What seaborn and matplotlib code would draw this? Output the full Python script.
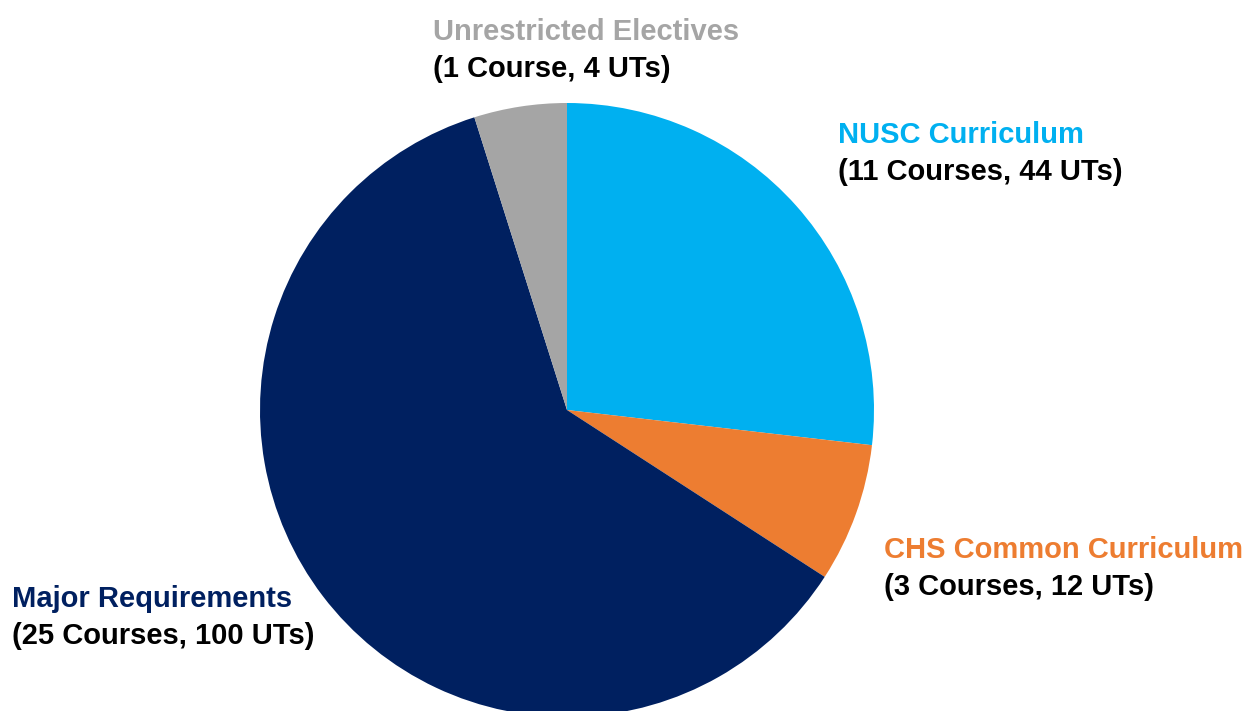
import matplotlib
matplotlib.use("Agg")
import matplotlib.pyplot as plt
import seaborn as sns

categories = ["NUSC Curriculum", "CHS Common Curriculum", "Major Requirements", "Unrestricted Electives"]
slice_values = [44, 12, 100, 8]
colors = ["#00B0F0", "#ED7D31", "#002060", "#A5A5A5"]
subtitles = ["(11 Courses, 44 UTs)", "(3 Courses, 12 UTs)", "(25 Courses, 100 UTs)", "(1 Course, 4 UTs)"]

sns.set_theme(style="white")
plt.rcParams['font.family'] = ['Liberation Sans', 'DejaVu Sans']

W, H = 1248, 711
fig = plt.figure(figsize=(W / 100, H / 100), dpi=100)
ax = fig.add_axes([0, 0, 1, 1])

ax.pie(slice_values, colors=colors, startangle=90, counterclock=False,
       center=(567, 301), radius=307, frame=True,
       wedgeprops=dict(linewidth=0))
ax.set_xlim(0, W)
ax.set_ylim(0, H)
ax.set_aspect('equal')
ax.axis('off')

label_pos = [(838, 576), (884, 161), (12, 112), (433, 679)]
for (x, y), name, sub, col in zip(label_pos, categories, subtitles, colors):
    ax.text(x, y, name, color=col, fontsize=21, fontweight='bold', va='center', ha='left')
    ax.text(x, y - 37, sub, color='black', fontsize=21, fontweight='bold', va='center', ha='left')

fig.savefig("out.png", dpi=100)
